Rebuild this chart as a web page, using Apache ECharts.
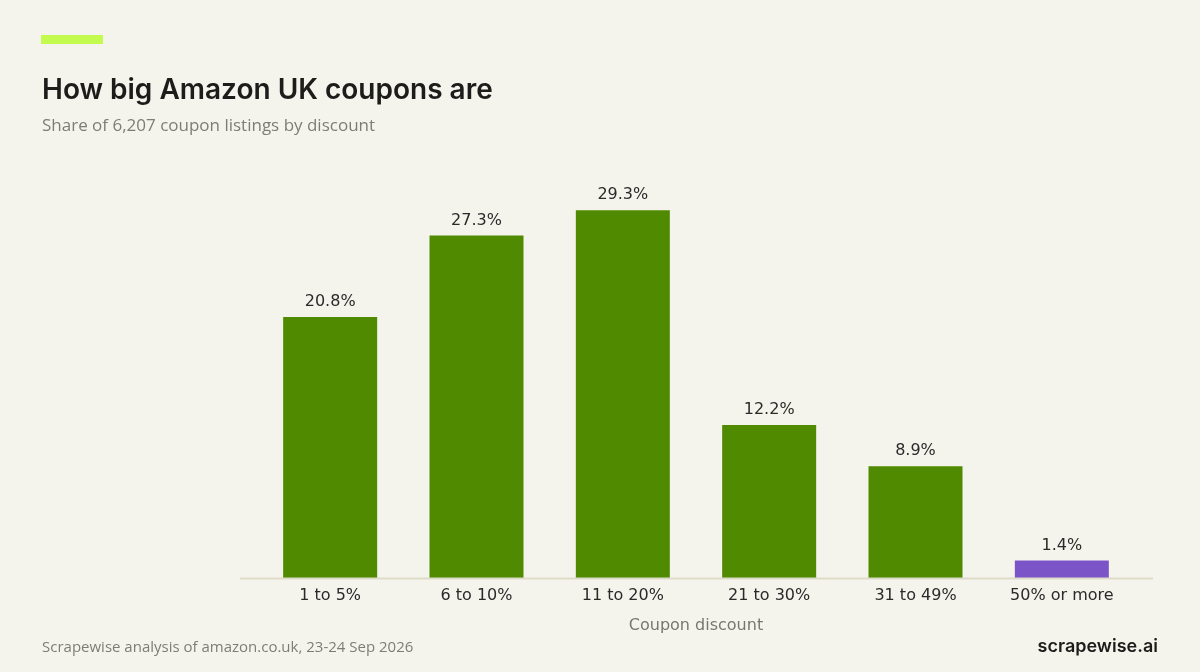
<!DOCTYPE html>
<html><head><meta charset="utf-8">
<script src="https://cdn.jsdelivr.net/npm/echarts@6/dist/echarts.min.js"></script>
<style>html,body{margin:0;padding:0;background:#f5f4ec;}#c{width:1200px;height:672px;}</style>
</head><body><div id="c"></div>
<script>
const categories = ['1 to 5%', '6 to 10%', '11 to 20%', '21 to 30%', '31 to 49%', '50% or more'];
const shares = [20.8, 27.3, 29.3, 12.2, 8.9, 1.4];
const barColors = ['#4f8a00', '#4f8a00', '#4f8a00', '#4f8a00', '#4f8a00', '#7b55c7'];

const chart = echarts.init(document.getElementById('c'));
chart.setOption({
  backgroundColor: '#f5f4ec',
  animation: false,
  grid: { left: 257, right: 65, top: 201.5, bottom: 94 },
  xAxis: {
    type: 'category', data: categories,
    axisLine: { show: false },
    axisTick: { show: false },
    axisLabel: { fontFamily: 'DejaVu Sans', fontSize: 16, color: '#2a2a2a', margin: 10 },
    name: 'Coupon discount', nameLocation: 'middle', nameGap: 40,
    nameTextStyle: { fontFamily: 'DejaVu Sans', fontSize: 16, color: '#777770' }
  },
  yAxis: { type: 'value', min: 0, max: 30, show: false },
  series: [{
    type: 'bar', barWidth: 94,
    data: shares.map((v, i) => ({ value: v, itemStyle: { color: barColors[i] } })),
    label: { show: true, position: 'top', distance: 7, formatter: p => p.value.toFixed(1) + '%',
      fontFamily: 'DejaVu Sans', fontSize: 16, color: '#2a2a2a' }
  }],
  graphic: [
    { type: 'line', shape: { x1: 240, y1: 578.5, x2: 1153, y2: 578.5 }, style: { stroke: '#dedcc8', lineWidth: 2 }, z: 10 },
    { type: 'rect', left: 41, top: 35, shape: { width: 62, height: 9 }, style: { fill: '#c3fa4e' } },
    { type: 'text', left: 42, top: 77, style: { text: 'How big Amazon UK coupons are', font: '600 28px Inter', fill: '#1c1c1a' } },
    { type: 'text', left: 42, top: 118, style: { text: 'Share of 6,207 coupon listings by discount', font: '17px "Open Sans"', fill: '#7d7d76' } },
    { type: 'text', left: 42, top: 640, style: { text: 'Scrapewise analysis of amazon.co.uk, 23-24 Sep 2026', font: '15px "Open Sans"', fill: '#7d7d76' } },
    { type: 'text', right: 42, top: 638, style: { text: 'scrapewise.ai', font: '600 18px Inter', fill: '#1c1c1a' } }
  ]
});
</script></body></html>
